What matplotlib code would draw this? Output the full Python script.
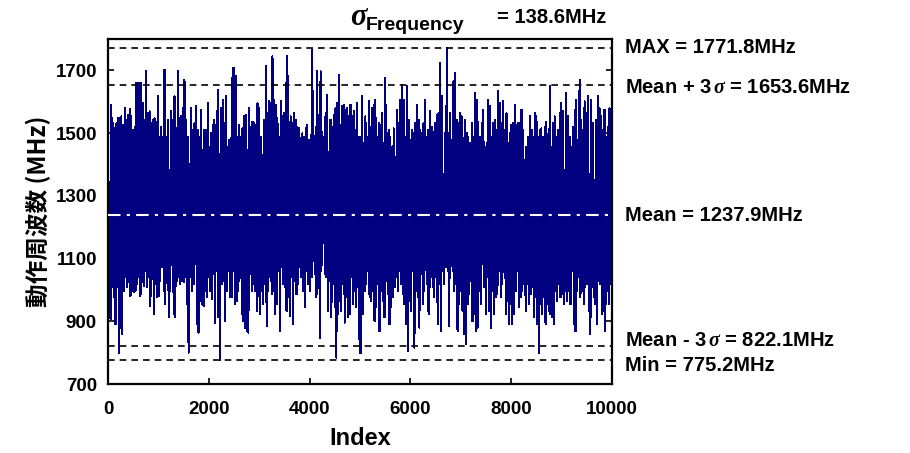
import numpy as np
import matplotlib.pyplot as plt

plt.rcParams['font.family'] = ['Liberation Sans', 'DejaVu Sans']
plt.rcParams['font.weight'] = 'bold'
plt.rcParams['mathtext.fontset'] = 'custom'
plt.rcParams['mathtext.it'] = 'Liberation Serif:italic'
plt.rcParams['mathtext.rm'] = 'Liberation Sans:bold'

# upper and lower peaks of the measured frequency trace (MHz), read left to right
upper_peaks = [
    1489, 1344, 1590, 1531, 1515, 1531, 1547, 1547, 1553, 1526, 1579, 1542, 1558, 1576, 1553, 1510, 1521,
    1659, 1659, 1659, 1659, 1595, 1542, 1697, 1563, 1569, 1531, 1542, 1547, 1537, 1617, 1489, 1521,
    1489, 1702, 1489, 1542, 1382, 1569, 1542, 1617, 1515, 1697, 1547, 1553, 1579, 1670, 1542, 1489,
    1403, 1579, 1510, 1531, 1585, 1510, 1489, 1574, 1446, 1510, 1510, 1595, 1457, 1499, 1526, 1542,
    1526, 1638, 1435, 1579, 1606, 1531, 1617, 1457, 1478, 1483, 1708,
    1708, 1681, 1489, 1526, 1489, 1515, 1553, 1558, 1446, 1579, 1521, 1537, 1531, 1526, 1595, 1579,
    1489, 1430, 1542, 1713, 1563, 1601, 1595, 1745, 1606, 1590, 1547, 1489, 1601, 1553, 1563, 1659,
    1745, 1537, 1553, 1531, 1563, 1542, 1521, 1515, 1483, 1499, 1489, 1515, 1526, 1478, 1494, 1766,
    1376, 1521, 1697, 1489, 1697, 1505, 1489, 1563, 1622, 1371, 1542, 1521, 1558, 1579, 1595, 1686,
    1526, 1585, 1590, 1574, 1579, 1553, 1590, 1553, 1569, 1510, 1595, 1489,
    1489, 1617, 1467, 1553, 1489, 1601, 1521, 1579, 1590, 1606, 1489, 1531, 1526, 1563, 1467, 1675,
    1499, 1510, 1489, 1457, 1515, 1424, 1574, 1531, 1606, 1654, 1606, 1489, 1649, 1542, 1478, 1510,
    1499, 1531, 1590, 1542, 1510, 1499, 1531, 1606, 1489, 1510, 1569, 1521, 1505, 1531, 1558, 1563,
    1724, 1617, 1371, 1499, 1771.8, 1499, 1563, 1478, 1665, 1692, 1542, 1531, 1563, 1553, 1483, 1542,
    1499, 1489, 1467, 1531, 1489, 1627, 1606, 1537, 1489, 1531, 1574, 1457,
    1467, 1606, 1585, 1489, 1531, 1542, 1510, 1633, 1595, 1531, 1601, 1510, 1563, 1467, 1499, 1526,
    1531, 1590, 1526, 1531, 1531, 1574, 1510, 1414, 1457, 1489, 1553, 1510, 1489, 1563, 1553, 1489,
    1510, 1515, 1489, 1521, 1537, 1489, 1649, 1457, 1531, 1553, 1489, 1510, 1563, 1595, 1569, 1382,
    1627, 1553, 1489, 1457, 1521, 1574, 1606, 1457, 1670, 1542, 1510, 1601, 1563, 1617, 1371, 1606,
    1531, 1350, 1542, 1617, 1579, 1553, 1510, 1574, 1489, 1521, 1579, 1537,
]
lower_peaks = [
    965, 907, 1008, 976, 891, 1008, 800, 880, 858, 997, 1040, 1008, 1024, 981, 997, 992,
    997, 1019, 1040, 981, 1024, 1013, 1061, 1008, 1040, 949, 1035, 923, 1019, 976, 981, 1029,
    1072, 997, 955, 1040, 912, 997, 1083, 923, 912, 1029, 1040, 1019, 1029, 1024, 1040, 955,
    800, 1040, 997, 1019, 1083, 891, 864, 965, 955, 949, 997, 976, 1040, 997, 971, 1051,
    896, 1061, 912, 775.2, 1019, 1029, 901, 997, 1061, 976, 976, 1061,
    955, 965, 997, 1056, 923, 901, 880, 869, 864, 1051, 997, 1019, 997, 933, 981, 923,
    997, 955, 1019, 885, 997, 1040, 987, 997, 923, 955, 1061, 869, 1072, 1019, 1008, 933,
    976, 917, 1040, 891, 1029, 987, 1019, 1072, 1040, 997, 944, 1061, 1019, 997, 1040, 1093,
    1051, 976, 1072, 848, 1061, 1168, 1051, 1040, 933, 1029, 912, 1019, 944, 784, 923, 965,
    933, 1019, 896, 976, 912, 923, 1040, 955, 997, 944, 1008, 800,
    800, 923, 997, 1019, 1061, 976, 965, 997, 901, 944, 1019, 869, 997, 965, 912, 1029,
    987, 891, 944, 976, 1008, 1040, 997, 1061, 1019, 987, 955, 891, 805, 965, 933, 1061,
    816, 997, 976, 880, 1061, 955, 997, 1083, 933, 923, 1040, 1008, 976, 1040, 891, 1019,
    869, 1061, 1019, 1072, 1061, 885, 1083, 1061, 997, 1019, 869, 955, 997, 933, 858, 826,
    955, 987, 1029, 901, 923, 869, 880, 997, 955, 1083, 1008, 923,
    1040, 933, 880, 997, 923, 976, 987, 1061, 976, 1019, 1104, 923, 965, 891, 955, 891,
    923, 997, 1061, 944, 976, 997, 1019, 933, 1019, 955, 987, 1008, 912, 976, 891, 800,
    955, 923, 976, 891, 955, 933, 923, 912, 891, 997, 965, 1019, 976, 987, 955, 997,
    965, 997, 955, 1061, 891, 869, 997, 1040, 976, 997, 955, 1008, 1019, 933, 858, 1008,
    976, 955, 891, 1029, 1019, 923, 933, 869, 997, 955, 1019, 880,
]

sigma_freq = 138.6
freq_max = 1771.8
freq_mean = 1237.9
freq_min = 775.2
mean_plus_3s = 1653.6
mean_minus_3s = 822.1

# interleave peaks into one trace over the sample index
n = min(len(upper_peaks), len(lower_peaks))
freq = np.empty(2 * n)
freq[0::2] = upper_peaks[:n]
freq[1::2] = lower_peaks[:n]
index = np.linspace(1, 10000, len(freq))

fig = plt.figure(figsize=(9.10, 4.53), dpi=100)
ax = fig.add_axes([0.1187, 0.1523, 0.5538, 0.7616])

ax.plot(index, freq, color='#000080', linewidth=0.8, antialiased=False)

for val in [freq_max, mean_plus_3s, mean_minus_3s, freq_min]:
    ax.axhline(val, color='black', linestyle=(0, (4, 3)), linewidth=1.2, zorder=3)
ax.axhline(freq_mean, color='white', linestyle=(0, (6, 3, 1.5, 3)), linewidth=1.5, zorder=3)

ax.set_xlim(0, 10000)
ax.set_ylim(700, 1800)
ax.set_xticks(np.arange(0, 10001, 2000))
ax.set_yticks(np.arange(700, 1701, 200))
ax.tick_params(direction='in', labelsize=13.5, top=False, right=True, length=4, width=1.2)
ax.tick_params(axis='x', pad=12)
ax.tick_params(axis='y', pad=8)
for lab in ax.get_xticklabels() + ax.get_yticklabels():
    lab.set_fontweight('bold')
for s in ax.spines.values():
    s.set_linewidth(1.6)

ax.set_xlabel('Index', fontsize=17, fontweight='bold', labelpad=7)
ax.set_ylabel('動作周波数 (MHz)', fontsize=17, fontweight='bold',
              family=['Noto Sans CJK JP', 'DejaVu Sans'], labelpad=3)

# labels to the right of the plot
kw = dict(transform=ax.get_yaxis_transform(), fontsize=14.5, fontweight='bold',
          va='center', ha='left', clip_on=False)
ax.text(1.026, freq_max, f'MAX = {freq_max}MHz', **kw)
ax.text(1.026, mean_plus_3s - 8, f'Mean + 3$\\,\\sigma$ = {mean_plus_3s}MHz', **kw)
ax.text(1.026, freq_mean, f'Mean = {freq_mean}MHz', **kw)
ax.text(1.026, mean_minus_3s + 16, f'Mean - 3$\\,\\sigma$ = {mean_minus_3s}MHz', **kw)
ax.text(1.026, freq_min - 16, f'Min = {freq_min}MHz', **kw)

# title: sigma with subscript
fig.text(0.385, 0.962, '$\\sigma$', fontsize=22, va='center', ha='left')
fig.text(0.402, 0.944, 'Frequency', fontsize=14, fontweight='bold', va='center', ha='left')
fig.text(0.546, 0.962, f'= {sigma_freq}MHz', fontsize=14.5, fontweight='bold', va='center', ha='left')

plt.savefig('out.png', dpi=100)
plt.close()
